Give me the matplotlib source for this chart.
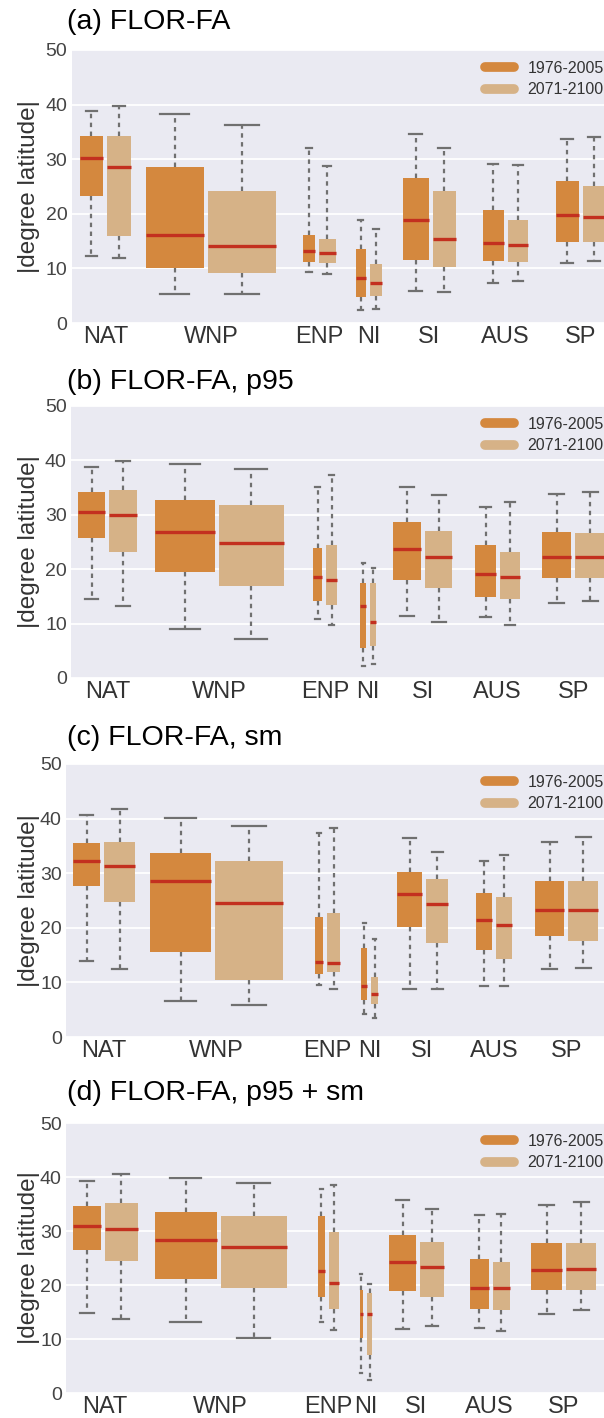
import matplotlib
matplotlib.use("Agg")
import matplotlib.pyplot as plt
from matplotlib.lines import Line2D

# ---- data: [whisker low, q1, median, q3, whisker high] per region ----
regions = ['NAT', 'WNP', 'ENP', 'NI', 'SI', 'AUS', 'SP']
periods = ['1976-2005', '2071-2100']
titles = ['(a) FLOR-FA', '(b) FLOR-FA, p95', '(c) FLOR-FA, sm', '(d) FLOR-FA, p95 + sm']

a_hist = [[12.3, 23.2, 30.3, 34.3, 38.9], [5.4, 10.1, 16.2, 28.5, 38.2], [9.3, 11.2, 13.1, 16.1, 32.0],
          [2.3, 4.8, 8.3, 13.5, 18.9], [5.8, 11.5, 18.9, 26.6, 34.7], [7.3, 11.3, 14.6, 20.7, 29.2],
          [10.9, 14.8, 19.7, 26.0, 33.7]]
a_fut = [[11.9, 15.9, 28.5, 34.2, 39.7], [5.3, 9.1, 14.1, 24.1, 36.3], [8.9, 10.9, 12.8, 15.4, 28.7],
         [2.5, 5.0, 7.3, 10.8, 17.2], [5.7, 10.3, 15.4, 24.2, 32.1], [7.7, 11.2, 14.3, 18.8, 29.0],
         [11.3, 14.8, 19.4, 25.1, 34.0]]

b_hist = [[14.5, 25.7, 30.5, 34.2, 38.8], [9.0, 19.4, 26.8, 32.8, 39.3], [10.8, 14.2, 18.5, 23.9, 35.2],
          [2.2, 5.5, 13.2, 17.5, 21.2], [11.4, 18.1, 23.8, 28.6, 35.2], [11.3, 14.9, 19.2, 24.5, 31.4],
          [13.7, 18.3, 22.3, 26.9, 33.8]]
b_fut = [[13.3, 23.2, 30.0, 34.6, 39.9], [7.1, 16.9, 24.9, 31.8, 38.4], [9.7, 13.4, 18.0, 24.5, 37.3],
         [2.6, 5.9, 10.3, 17.4, 20.3], [10.3, 16.5, 22.3, 27.1, 33.7], [9.8, 14.5, 18.6, 23.2, 32.3],
         [14.1, 18.3, 22.3, 26.6, 34.2]]

c_hist = [[13.9, 27.7, 32.3, 35.5, 40.7], [6.6, 15.5, 28.5, 33.7, 40.1], [9.5, 11.6, 13.8, 21.9, 37.3],
          [4.3, 6.7, 9.4, 16.3, 20.8], [8.8, 20.1, 26.2, 30.2, 36.4], [9.3, 16.0, 21.4, 26.3, 32.3],
          [12.4, 18.5, 23.3, 28.5, 35.8]]
c_fut = [[12.5, 24.7, 31.4, 35.7, 41.8], [5.8, 10.5, 24.5, 32.3, 38.7], [8.7, 11.9, 13.6, 22.8, 38.2],
         [3.4, 6.1, 7.9, 11.0, 17.9], [8.8, 17.3, 24.3, 28.9, 33.8], [9.3, 14.2, 20.5, 25.6, 33.4],
         [12.7, 17.6, 23.3, 28.5, 36.6]]

d_hist = [[14.8, 26.4, 31.0, 34.6, 39.3], [13.1, 21.1, 28.4, 33.5, 39.8], [13.1, 17.7, 22.6, 32.7, 37.7],
          [3.7, 10.1, 14.6, 19.0, 22.0], [11.9, 18.8, 24.2, 29.3, 35.8], [12.0, 15.6, 19.4, 24.9, 33.0],
          [14.7, 19.1, 22.8, 27.7, 34.8]]
d_fut = [[13.7, 24.5, 30.4, 35.1, 40.6], [10.1, 19.4, 27.0, 32.8, 38.8], [11.6, 15.6, 20.4, 29.8, 38.5],
         [2.5, 7.1, 14.6, 18.6, 20.2], [12.5, 17.7, 23.3, 27.9, 34.1], [11.5, 15.4, 19.4, 24.3, 33.1],
         [15.4, 19.1, 23.0, 27.7, 35.4]]

panel_data = [(a_hist, a_fut), (b_hist, b_fut), (c_hist, c_fut), (d_hist, d_fut)]

# ---- layout (figure pixels) ----
W, H = 604, 1418
axes_px = [(71.5, 50, 323), (71, 406, 678), (66, 764, 1037), (66, 1123, 1393)]  # left, top, bottom
title_y = [22, 382, 738, 1093]
group_left = [[80, 145.6, 303, 356, 403, 483, 555.6],
              [78, 155, 313, 360, 393, 475, 542],
              [73, 150, 315, 361, 397, 476, 535],
              [73, 155, 318, 359.5, 389, 470, 531]]
w_hist = [[22.5, 58.5, 12, 9.5, 25.5, 20.5, 23],
          [27, 59.6, 9, 6, 28, 21, 29],
          [27, 61, 8, 6, 25, 16, 29],
          [28, 61.5, 6.5, 3.5, 27, 18.5, 31]]
w_fut = [[24.3, 68, 16.5, 12, 23.4, 20.5, 23],
         [28, 65, 11, 6, 27.4, 20, 30],
         [31, 68, 13, 7, 22, 16, 30],
         [32.5, 66, 10, 5, 24, 17, 30]]
gap = 4

C_HIST = '#D4883E'
C_FUT = '#D6B287'
C_MED = '#C3301F'
C_WHISK = '#707070'
BG = '#EAEAF2'

plt.rcParams['font.family'] = ['Liberation Sans', 'DejaVu Sans']
fig = plt.figure(figsize=(W / 100, H / 100), dpi=100)
fig.patch.set_facecolor('white')


def to_stats(rows):
    return [dict(whislo=r[0], q1=r[1], med=r[2], q3=r[3], whishi=r[4]) for r in rows]


for k, (hist, fut) in enumerate(panel_data):
    left, top, bottom = axes_px[k]
    ax = fig.add_axes([left / W, 1 - bottom / H, (W - left) / W, (bottom - top) / H])
    ax.set_facecolor(BG)
    for s in ax.spines.values():
        s.set_visible(False)
    ax.set_xlim(left, W)
    ax.set_ylim(0, 50)
    ax.set_yticks(range(0, 51, 10))
    ax.grid(axis='y', color='white', lw=1.3)
    ax.set_axisbelow(True)

    pos_h = [L + w1 / 2 for L, w1 in zip(group_left[k], w_hist[k])]
    pos_f = [L + w1 + gap + w2 / 2 for L, w1, w2 in zip(group_left[k], w_hist[k], w_fut[k])]
    centers = [(L + (L + w1 + gap + w2)) / 2 for L, w1, w2 in zip(group_left[k], w_hist[k], w_fut[k])]

    for stats, pos, wid, col in [(hist, pos_h, w_hist[k], C_HIST), (fut, pos_f, w_fut[k], C_FUT)]:
        ax.bxp(to_stats(stats), positions=pos, widths=wid, patch_artist=True, showfliers=False,
               manage_ticks=False,
               boxprops=dict(facecolor=col, edgecolor='none', linewidth=0),
               medianprops=dict(color=C_MED, linewidth=2.4, solid_capstyle='butt'),
               whiskerprops=dict(color=C_WHISK, linewidth=1.6, linestyle=(0, (2, 2))),
               capprops=dict(color=C_WHISK, linewidth=1.6))

    ax.set_xticks(centers)
    ax.set_xticklabels(regions, fontsize=17, color='#333333')
    ax.tick_params(axis='x', length=0, pad=2.5)
    ax.tick_params(axis='y', length=0, pad=3, labelsize=14, labelcolor='#444444')

    ax.set_ylabel('|degree latitude|', fontsize=17.5, color='#333333', va='center')
    ax.yaxis.set_label_coords((29 - left) / (W - left), 0.5)

    fig.text(67 / W, 1 - title_y[k] / H, titles[k], fontsize=20.5, color='black', va='center', ha='left')

    handles = [Line2D([0], [0], color=C_HIST, lw=7, solid_capstyle='round'),
               Line2D([0], [0], color=C_FUT, lw=7, solid_capstyle='round')]
    ax.legend(handles, periods, loc='upper left', bbox_to_anchor=(485 / W, 1 - (top + 11) / H),
              bbox_transform=fig.transFigure, frameon=False, fontsize=11.5, borderpad=0,
              borderaxespad=0, handlelength=1.8, handletextpad=0.85, labelspacing=0.4,
              labelcolor='#333333')

fig.savefig('out.png', dpi=100, facecolor='white')
